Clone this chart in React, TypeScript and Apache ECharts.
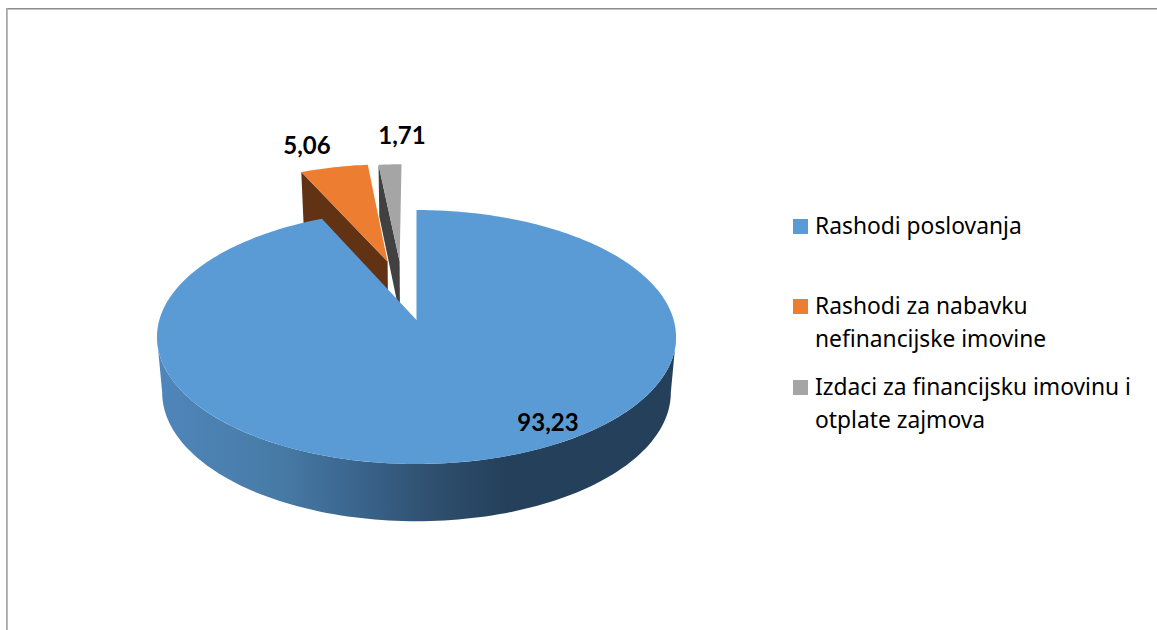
import React, { useEffect, useRef } from "react";
import * as echarts from "echarts";

const categories = [
  "Rashodi poslovanja",
  "Rashodi za nabavku\nnefinancijske imovine",
  "Izdaci za financijsku imovinu i\notplate zajmova",
];
const sliceValues = [93.23, 5.06, 1.71];

const topColors = ["#5B9BD5", "#ED7D31", "#A5A5A5"];
const wallColors = ["#24405A", "#613214", "#414141"];
const explodeOffsets = [[0, 0], [-0.12, -0.5], [-0.07, -0.5]];
const labelPositions = [[548, 421], [307, 144], [402, 134]];
const legendMarkerY = [219, 299, 380];
const legendTextTop = [209, 289, 370];

const CX = 416.5, CY = 320, RX = 257.2, RY = 124.7, P = 0.134, BASE_SCALE = 0.98;
const total = sliceValues.reduce((a, b) => a + b, 0);

function project(u: number, v: number) {
  const w = 1 - P * v;
  return [(RX * u) / w, (RY * v) / w];
}
function topPoint(u: number, v: number) {
  const [x, y] = project(u, v);
  return [CX + x, CY + y];
}
function basePoint(u: number, v: number) {
  const [x, y] = project(u, v);
  return [CX + x * BASE_SCALE, CY + y + 55 + 2.2 * v];
}

const renderSlice = (_params: any, api: any) => {
  const value = api.value(0);
  const index = api.value(1);
  const before = sliceValues.slice(0, index).reduce((a, b) => a + b, 0);
  const start = (before / total) * Math.PI * 2;
  const end = ((before + value) / total) * Math.PI * 2;
  const [ou, ov] = explodeOffsets[index];
  const at = (t: number) => [Math.sin(t) + ou, -Math.cos(t) + ov];
  const apex: [number, number] = [ou, ov];
  const children: any[] = [];

  const visFrom = Math.acos(-P);
  const visTo = Math.PI * 2 - visFrom;
  const a0 = Math.max(start, visFrom);
  const a1 = Math.min(end, visTo);
  if (a1 > a0) {
    const steps = 120;
    const up: number[][] = [];
    const low: number[][] = [];
    for (let k = 0; k <= steps; k++) {
      const t = a0 + ((a1 - a0) * k) / steps;
      const [u, v] = at(t);
      up.push(topPoint(u, v));
      low.push(basePoint(u, v));
    }
    children.push({
      type: "polygon",
      shape: { points: up.concat(low.reverse()) },
      style: {
        fill: new echarts.graphic.LinearGradient(0, 0, 1, 0, [
          { offset: 0, color: "#4F86BB" },
          { offset: 0.235, color: "#477BA6" },
          { offset: 0.35, color: "#3D6A94" },
          { offset: 0.524, color: "#2F5070" },
          { offset: 0.678, color: wallColors[index] },
          { offset: 1, color: wallColors[index] },
        ]),
      },
    });
  }
  if (index > 0) {
    const [su, sv] = at(start);
    children.push({
      type: "polygon",
      shape: {
        points: [
          topPoint(su, sv),
          topPoint(apex[0], apex[1]),
          basePoint(apex[0], apex[1]),
          basePoint(su, sv),
        ],
      },
      style: { fill: wallColors[index] },
    });
  }
  const steps = Math.max(8, Math.round(((end - start) / (Math.PI * 2)) * 360));
  const pts: number[][] = [topPoint(apex[0], apex[1])];
  for (let k = 0; k <= steps; k++) {
    const [u, v] = at(start + ((end - start) * k) / steps);
    pts.push(topPoint(u, v));
  }
  children.push({ type: "polygon", shape: { points: pts }, style: { fill: topColors[index] } });
  children.push({
    type: "text",
    style: {
      text: value.toFixed(2).replace(".", ","),
      x: labelPositions[index][0],
      y: labelPositions[index][1],
      align: "center",
      verticalAlign: "middle",
      fill: "#000",
      font: 'bold 24px Lato, "Noto Sans", sans-serif',
    },
  });
  return { type: "group", children };
};

export default function App() {
  const ref = useRef<HTMLDivElement>(null);
  useEffect(() => {
    document.body.style.margin = "0";
    document.body.style.overflow = "hidden";
    const chart = echarts.init(ref.current!, undefined, { renderer: "svg" });
    const legendGraphics: any[] = [];
    categories.forEach((name, i) => {
      legendGraphics.push({
        type: "rect",
        shape: { x: 793, y: legendMarkerY[i], width: 15, height: 15 },
        style: { fill: topColors[i] },
      });
      legendGraphics.push({
        type: "text",
        style: {
          text: name,
          x: 815,
          y: legendTextTop[i],
          fill: "#000",
          font: '22.8px "Noto Sans", sans-serif',
          lineHeight: 33,
          verticalAlign: "top",
        },
      });
    });
    chart.setOption({
      animation: false,
      backgroundColor: "#fff",
      graphic: [
        { type: "rect", shape: { x: 6, y: 8, width: 1151, height: 1.5 }, style: { fill: "#8C8C8C" } },
        { type: "rect", shape: { x: 6, y: 8, width: 1.8, height: 622 }, style: { fill: "#A8A8A8" } },
        ...legendGraphics,
      ],
      series: [
        {
          type: "custom",
          coordinateSystem: "none",
          renderItem: renderSlice,
          silent: true,
          data: sliceValues.map((v, i) => [v, i]).reverse(),
          encode: { value: [0] },
        },
      ],
    });
    return () => chart.dispose();
  }, []);
  return <div ref={ref} style={{ position: "absolute", left: 0, top: 0, width: 1157, height: 630 }} />;
}
